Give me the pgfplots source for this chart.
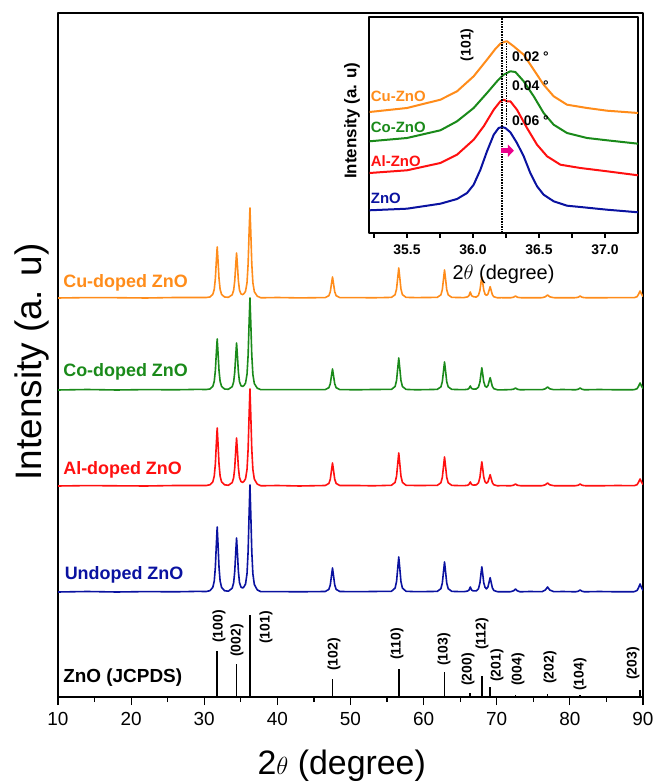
\documentclass[border=0pt]{standalone}
\usepackage{fontspec}
\setmainfont{Liberation Sans}
\usepackage{pgfplots}
\usepackage{pgfplotstable}
\pgfplotsset{compat=1.18}
\usetikzlibrary{arrows.meta}

\definecolor{cuor}{HTML}{FF8C1A}
\definecolor{cogr}{HTML}{1A8A1A}
\definecolor{alrd}{HTML}{FF1010}
\definecolor{znbl}{HTML}{0A12A0}

% relative intensities (px above each baseline); U = undoped, A = Al, C = Co, Cu = Cu
\pgfplotstableread{
x U A C Cu
10 0 0 0 0
14 0.5 0.4 0.5 0.4
18 0 0.2 0 0.3
22 0.4 0 0.4 0
26 0.2 0.5 0.2 0.5
29 0.6 0.5 0.6 0.5
30.27 0.5 0.5 0.5 0.5
30.77 1.3 1.2 1.0 1.0
31.17 4.6 4.1 3.6 3.6
31.37 11 9.9 8.7 8.7
31.52 24.7 22 19.4 19.4
31.65 46.8 41.8 36.7 36.7
31.77 65 58 51 51
31.89 46.8 41.8 36.7 36.7
32.02 24.7 22 19.4 19.4
32.17 11 9.9 8.7 8.7
32.37 4.6 4.1 3.6 3.6
32.77 1.3 1.2 1.0 1.0
33.3 0.8 0.7 0.7 0.7
33.82 3.8 3.4 3.3 3.2
34.02 9.2 8.2 8.0 7.7
34.17 20.5 18.2 17.9 17.1
34.30 38.9 34.6 33.8 32.4
34.42 54 48 47 45
34.54 38.9 34.6 33.8 32.4
34.67 20.5 18.2 17.9 17.1
34.82 9.5 8.5 8.3 7.9
35.02 5.0 4.5 4.3 4.1
35.25 4.0 3.6 3.5 3.4
35.45 5.3 4.8 4.6 4.5
35.65 8.1 7.3 7.0 6.8
35.85 18.4 16.6 15.8 15.4
36.0 40.7 36.9 35 34.2
36.13 77 69.8 66.2 64.8
36.25 107 97 92 90
36.37 77 69.8 66.2 64.8
36.5 40.7 36.9 35 34.2
36.65 18.2 16.5 15.6 15.3
36.85 7.5 6.8 6.4 6.3
37.25 2.1 1.9 1.8 1.8
37.75 0.3 0.2 0.3 0.2
40 0.4 0.5 0.3 0.5
43 0.2 0 0.4 0.1
46.54 0.5 0.5 0.4 0.4
47.04 2.6 2.5 2.3 2.3
47.24 7.2 6.9 6.3 6.3
47.40 16.3 15.6 14.3 14.3
47.54 24 23 21 21
47.68 16.3 15.6 14.3 14.3
47.84 7.2 6.9 6.3 6.3
48.04 2.6 2.5 2.3 2.3
48.54 0.5 0.5 0.4 0.4
51 0.3 0.5 0.2 0.4
53 0.5 0.2 0.5 0.2
55.6 0.7 0.7 0.6 0.6
56.1 3.9 3.6 3.5 3.3
56.3 10.5 9.9 9.6 9
56.46 23.8 22.4 21.8 20.4
56.6 35 33 32 30
56.74 23.8 22.4 21.8 20.4
56.9 10.5 9.9 9.6 9
57.1 3.9 3.6 3.5 3.3
57.6 0.7 0.7 0.6 0.6
59 0.3 0.5 0.2 0.4
61.86 0.6 0.6 0.6 0.6
62.36 3.3 3.2 3.1 3.1
62.56 9 8.7 8.4 8.4
62.72 20.4 19.7 19 19
62.86 30 29 28 28
63.0 20.4 19.7 19 19
63.16 9 8.7 8.4 8.4
63.36 3.3 3.2 3.1 3.1
63.86 0.6 0.6 0.6 0.6
65.5 0.3 0.3 0.3 0.4
66.0 0.9 0.7 0.7 1.1
66.2 1.9 1.5 1.5 2.3
66.38 5 4 4 6
66.56 1.9 1.5 1.5 2.3
66.8 1.1 0.9 0.9 1.3
67.2 1.1 1.1 1.0 0.9
67.5 3.3 3.1 2.9 2.7
67.7 9 8.6 7.9 7.6
67.84 18 17.3 15.8 15.1
67.96 25.2 24.2 22.2 21.2
68.08 18.3 17.5 16.1 15.4
68.22 9.4 9 8.3 8
68.4 4.6 4.2 4.0 3.8
68.6 3.1 2.8 2.7 2.6
68.8 5.1 4.1 4.4 4.0
68.96 10 8 8.6 7.9
69.1 14.3 11.3 12.3 11.3
69.24 9.5 7.5 8.2 7.5
69.4 4.2 3.3 3.6 3.3
69.6 1.5 1.2 1.3 1.2
70.1 0.3 0.2 0.2 0.2
70.6 0.2 0.4 0.1 0.3
71.9 0.3 0.2 0.4 0.2
72.3 1.2 0.8 0.8 0.8
72.56 3 2 2 2
72.8 1.2 0.8 0.8 0.8
73.2 0.2 0.3 0.2 0.3
74.5 0.5 0.2 0.4 0.2
76.2 0.3 0.3 0.3 0.3
76.65 2 1.2 1.2 1.2
76.95 5 3 3 3
77.25 2 1.2 1.2 1.2
77.8 0.3 0.3 0.3 0.3
79 0.5 0.2 0.5 0.2
80.8 0.2 0.3 0.2 0.3
81.15 0.8 0.8 0.8 0.8
81.4 2 2 2 2
81.65 0.8 0.8 0.8 0.8
82.0 0.2 0.3 0.2 0.3
84 0.5 0.2 0.5 0.2
86.5 0.2 0.5 0.2 0.4
88.8 0.3 0.3 0.3 0.3
89.2 1.6 1.4 1.4 1.4
89.4 4.4 3.9 3.9 3.9
89.6 8 7 7 7
89.8 4.4 3.9 3.9 3.9
90 1.6 1.4 1.4 1.4
}\xrd

% JCPDS reference lines
\pgfplotstableread{
x I
31.77 46
34.42 33
36.25 82
47.54 18
56.60 28
62.86 25
66.38 4
67.96 21
69.10 10
72.56 2
76.95 3
81.37 2
89.60 7
}\jcpds

% inset, (101) peak
\pgfplotstableread{
x y
35.217 22.7
35.5 24.3
35.753 29.3
35.879 34
35.955 40
36.005 48.3
36.056 63.3
36.106 81.7
36.157 98.3
36.194 105
36.220 106
36.245 105
36.283 100.7
36.333 90
36.384 76.7
36.434 60
36.485 46.7
36.535 38.3
36.611 31.7
36.712 27.3
36.813 26
37.015 23.3
37.25 20.7
}\inzn
\pgfplotstableread{
x y
35.217 60
35.5 62.7
35.753 70
35.879 78.3
36.005 93.3
36.081 106.7
36.157 123.3
36.207 131.7
36.232 133.3
36.258 131.7
36.283 131.7
36.333 123.3
36.409 105
36.485 88.3
36.561 76.7
36.662 68.3
36.813 65
37.015 61.7
37.25 57.7
}\inal
\pgfplotstableread{
x y
35.217 91.7
35.5 95
35.753 102.7
35.879 111.7
36.005 125
36.106 140
36.182 151.7
36.232 158.3
36.283 161.7
36.321 161
36.384 151.7
36.460 136.7
36.535 120
36.611 108.3
36.712 100
36.864 95
37.015 92.7
37.25 89.3
}\inco
\pgfplotstableread{
x y
35.217 121
35.5 125
35.753 133.3
35.879 141.7
36.005 156.7
36.106 173.3
36.169 184
36.207 189.3
36.232 191
36.258 191.7
36.308 186.7
36.384 178.3
36.460 163.3
36.535 148.3
36.611 136.7
36.712 128.3
36.864 125
37.015 122.3
37.25 120
}\incu

\begin{document}
\begin{tikzpicture}
\useasboundingbox (0,0) rectangle (658bp,782bp);

\begin{axis}[at={(58bp,85bp)}, anchor=south west, scale only axis,
    width=585bp, height=684bp,
    xmin=10, xmax=90, ymin=0, ymax=684,
    ytick=\empty, xtick={10,20,...,90}, minor xtick={15,25,...,85},
    tick pos=left, tick align=outside,
    major tick length=8bp, minor tick length=5bp,
    axis line style={line width=1.2bp}, tick style={line width=1.2bp, black},
    /pgf/number format/assume math mode=true,
    xticklabel style={font=\fontsize{19}{19}\selectfont, yshift=-4bp},
    xlabel={2$\theta$ (degree)}, ylabel={Intensity (a. u)},
    every axis x label/.style={at={(axis description cs:0.485,0)}, yshift=-69bp, anchor=center, font=\fontsize{34}{34}\selectfont},
    every axis y label/.style={at={(axis description cs:0,0.49)}, xshift=-26bp, rotate=90, anchor=center, font=\fontsize{37}{37}\selectfont},
    no markers, line join=round]
  \addplot[znbl, line width=1.6bp] table[x=x, y expr=\thisrow{U}+105] {\xrd};
  \addplot[alrd, line width=1.6bp] table[x=x, y expr=\thisrow{A}+211] {\xrd};
  \addplot[cogr, line width=1.6bp] table[x=x, y expr=\thisrow{C}+307] {\xrd};
  \addplot[cuor, line width=1.6bp] table[x=x, y expr=\thisrow{Cu}+399] {\xrd};
  \addplot[black, ycomb, line width=1.8bp] table[x=x, y=I] {\jcpds};

  \begin{scope}[every node/.style={anchor=west, inner sep=0pt, font=\bfseries\fontsize{18}{18}\selectfont}]
    \node[cuor] at (axis cs:10.7,414) {Cu-doped ZnO};
    \node[cogr] at (axis cs:10.7,325) {Co-doped ZnO};
    \node[alrd] at (axis cs:10.7,227) {Al-doped ZnO};
    \node[znbl] at (axis cs:10.9,122) {Undoped ZnO};
    \node[black, font=\bfseries\fontsize{19}{19}\selectfont] at (axis cs:10.7,19) {ZnO (JCPDS)};
  \end{scope}
  \begin{scope}[every node/.style={rotate=90, anchor=west, inner sep=0pt, font=\bfseries\fontsize{14}{14}\selectfont}]
    \node at (axis cs:32.02,54) {(100)};
    \node at (axis cs:34.48,40) {(002)};
    \node at (axis cs:38.44,53) {(101)};
    \node at (axis cs:47.74,26) {(102)};
    \node at (axis cs:56.36,37) {(110)};
    \node at (axis cs:62.79,31) {(103)};
    \node at (axis cs:66.07,11) {(200)};
    \node at (axis cs:67.98,47) {(112)};
    \node at (axis cs:70.03,15) {(201)};
    \node at (axis cs:72.90,11) {(004)};
    \node at (axis cs:77.28,13) {(202)};
    \node at (axis cs:81.38,6) {(104)};
    \node at (axis cs:88.63,17) {(203)};
  \end{scope}
\end{axis}

\begin{axis}[at={(369bp,549bp)}, anchor=south west, scale only axis,
    width=269bp, height=216bp,
    xmin=35.212, xmax=37.25, ymin=0, ymax=216,
    axis background/.style={fill=white},
    ytick=\empty, xtick={35.5,36,36.5,37}, minor xtick={35.25,35.75,36.25,36.75},
    tick pos=left, tick align=outside,
    major tick length=5bp, minor tick length=5bp,
    axis line style={line width=1.8bp}, tick style={line width=1.4bp, black},
    /pgf/number format/assume math mode=true,
    xticklabel={\pgfmathprintnumber[fixed, fixed zerofill, precision=1]{\tick}},
    xticklabel style={font=\bfseries\fontsize{14}{14}\selectfont, yshift=-3bp},
    xlabel={2$\theta$ (degree)}, ylabel={Intensity (a. u)},
    every axis x label/.style={at={(axis description cs:0.5,0)}, yshift=-41bp, anchor=center, font=\fontsize{20}{20}\selectfont},
    every axis y label/.style={at={(axis description cs:0,0.52)}, xshift=-17bp, rotate=90, anchor=center, font=\bfseries\fontsize{17}{17}\selectfont},
    no markers, line join=round]
  \addplot[znbl, line width=2bp] table[x=x, y=y] {\inzn};
  \addplot[alrd, line width=2bp] table[x=x, y=y] {\inal};
  \addplot[cogr, line width=2bp] table[x=x, y=y] {\inco};
  \addplot[cuor, line width=2bp] table[x=x, y=y] {\incu};
  \draw[black, line width=1.6bp, densely dotted] (axis cs:36.22,0) -- (axis cs:36.22,216);
  \draw[black, line width=1.6bp, densely dotted] (axis cs:36.255,190) -- (axis cs:36.255,107);
  \draw[magenta, line width=5bp, -{Triangle[length=6bp, width=12bp]}] (axis cs:36.215,82.3) -- (axis cs:36.31,82.3);
  \begin{scope}[every node/.style={anchor=west, inner sep=0pt, font=\bfseries\fontsize{15}{15}\selectfont}]
    \node[cuor] at (axis cs:35.225,136.7) {Cu-ZnO};
    \node[cogr] at (axis cs:35.225,105.7) {Co-ZnO};
    \node[alrd] at (axis cs:35.225,71.7) {Al-ZnO};
    \node[znbl] at (axis cs:35.225,35) {ZnO};
    \node[black, font=\bfseries\fontsize{14}{14}\selectfont] at (axis cs:36.295,176) {0.02 °};
    \node[black, font=\bfseries\fontsize{14}{14}\selectfont] at (axis cs:36.295,147.3) {0.04 °};
    \node[black, font=\bfseries\fontsize{14}{14}\selectfont] at (axis cs:36.295,112.7) {0.06 °};
    \node[black, rotate=90, font=\bfseries\fontsize{14}{14}\selectfont] at (axis cs:35.955,171.7) {(101)};
  \end{scope}
\end{axis}
\end{tikzpicture}
\end{document}
